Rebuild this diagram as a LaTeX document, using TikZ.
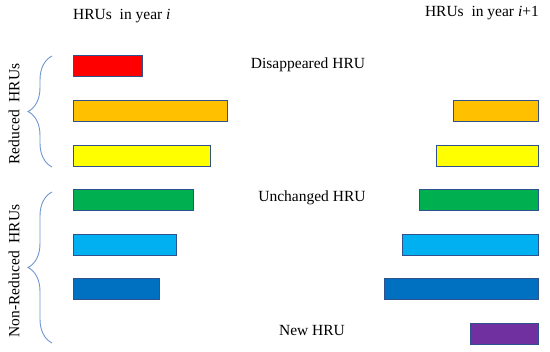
\documentclass[tikz,border=0pt]{standalone}
\usepackage{fontspec}
\setmainfont{Liberation Serif}
\usetikzlibrary{decorations.pathreplacing}
\definecolor{cRed}{RGB}{255,0,0}
\definecolor{cOrange}{RGB}{255,192,0}
\definecolor{cYellow}{RGB}{255,255,0}
\definecolor{cGreen}{RGB}{0,176,80}
\definecolor{cLBlue}{RGB}{0,176,240}
\definecolor{cDBlue}{RGB}{0,112,192}
\definecolor{cPurple}{RGB}{112,48,160}
\definecolor{cEdge}{RGB}{47,82,143}
\definecolor{cBrace}{RGB}{110,150,210}
\begin{document}
\begin{tikzpicture}[x=1pt,y=-1pt,
  bar/.style={draw=cEdge, line width=1pt, inner sep=0pt, outer sep=0pt, anchor=north west, minimum height=21pt},
  lbl/.style={font=\fontsize{15.5}{18}\selectfont, inner sep=0pt},
  grp/.style={font=\fontsize{15.5}{18}\selectfont, inner sep=0pt, rotate=90},
  brc/.style={draw=cBrace, line width=0.9pt, decorate, decoration={brace, amplitude=24pt}}]
\useasboundingbox (0,0) rectangle (550,352);
% titles
\node[lbl, anchor=base west] (t1) at (73,20) {HRUs\ \ in year \textit{i}};
\node[lbl, anchor=base east] (t2) at (539,17) {HRUs\ \ in year \textit{i}+1};
% middle labels
\node[lbl, anchor=base] (disp) at (308,69) {Disappeared HRU};
\node[lbl, anchor=base] (unch) at (312,202) {Unchanged HRU};
\node[lbl, anchor=base] (new) at (312,336) {New HRU};
% left bars
\node[bar, fill=cRed, minimum width=69pt] (l1) at (73,56) {};
\node[bar, fill=cOrange, minimum width=154pt] (l2) at (73,101) {};
\node[bar, fill=cYellow, minimum width=137pt] (l3) at (73,145.5) {};
\node[bar, fill=cGreen, minimum width=120pt] (l4) at (73,189.5) {};
\node[bar, fill=cLBlue, minimum width=103pt] (l5) at (73,235) {};
\node[bar, fill=cDBlue, minimum width=86pt] (l6) at (73,279) {};
% right bars
\node[bar, fill=cOrange, minimum width=85pt] (r2) at (453,101) {};
\node[bar, fill=cYellow, minimum width=102pt] (r3) at (436,145.5) {};
\node[bar, fill=cGreen, minimum width=119pt] (r4) at (419,189.5) {};
\node[bar, fill=cLBlue, minimum width=136pt] (r5) at (402,235) {};
\node[bar, fill=cDBlue, minimum width=154pt] (r6) at (384,279) {};
\node[bar, fill=cPurple, minimum width=68pt] (r7) at (470,323.5) {};
% braces
\coordinate (b1t) at (52,56);
\coordinate (b1b) at (52,167);
\coordinate (b2t) at (52,192);
\coordinate (b2b) at (52,343);
\draw[brc] (b1b) -- (b1t);
\draw[brc] (b2b) -- (b2t);
% group labels
\node[grp] (g1) at (14,114) {Reduced\ \ HRUs};
\node[grp] (g2) at (14,271) {Non-Reduced\ \ HRUs};
\end{tikzpicture}
\end{document}
